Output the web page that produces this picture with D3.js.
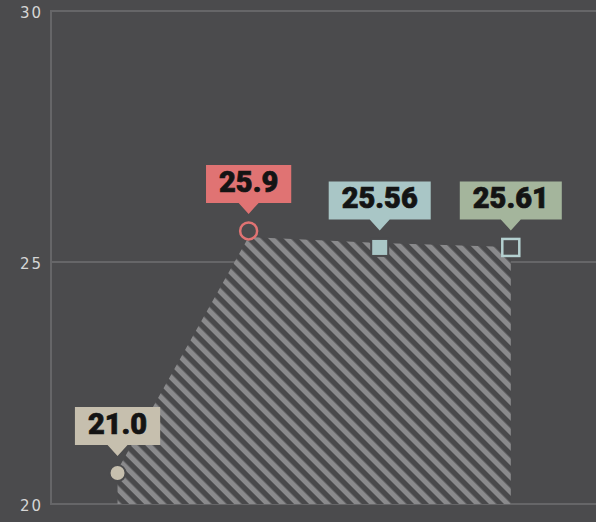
<!DOCTYPE html>
<html>
<head>
<meta charset="utf-8">
<script src="https://cdn.jsdelivr.net/npm/d3@7"></script>
<style>
  html, body { margin: 0; padding: 0; background: #4b4b4d; }
  svg { display: block; }
</style>
</head>
<body>
<div id="chart"></div>
<script>
// values
var pointIndex = [0, 1, 2, 3];
var areaValues = [20.7, 25.5, 25.38, 25.3];
var markerValues = [20.64, 25.62, 25.29, 25.29];
var labelTexts = ['21.0', '25.9', '25.56', '25.61'];
var yTicks = [20, 25, 30];

// marker look per point
var markerStyle = [
	{ shape: 'circle', fill: '#c6bfae', stroke: '#4b4b4d', box: '#c6bfae' },
	{ shape: 'circle', fill: 'none', stroke: '#e07373', box: '#e07373' },
	{ shape: 'square', fill: '#a9c6c6', stroke: '#4b4b4d', box: '#a9c6c6' },
	{ shape: 'square', fill: 'none', stroke: '#b4d0d0', box: '#a4b59c' }
];

var width = 596, height = 522;
var margin = { left: 52 };

var svg = d3.select('#chart').append('svg')
	.attr('width', width)
	.attr('height', height);

// x: index scale, chart is cut off on the right
var x = d3.scaleLinear()
	.domain([-0.5, 3.65])
	.range([margin.left, width]);

// the two halves of the axis are not quite the same height in the picture
var y = d3.scaleLinear()
	.domain([20, 25, 30])
	.range([504, 262, 11]);

// hatch pattern for the area
var defs = svg.append('defs');
var pat = defs.append('pattern')
	.attr('id', 'hatch')
	.attr('patternUnits', 'userSpaceOnUse')
	.attr('width', 10.6)
	.attr('height', 10.6)
	.attr('patternTransform', 'rotate(-45)');
pat.append('rect').attr('width', 10.6).attr('height', 10.6).attr('fill', '#49494b');
pat.append('rect').attr('width', 5.2).attr('height', 10.6).attr('fill', '#8a8a8c');

// gridlines
svg.append('g')
	.selectAll('line')
	.data(yTicks)
	.enter().append('line')
	.attr('x1', margin.left - 1)
	.attr('x2', width)
	.attr('y1', function (d) { return y(d); })
	.attr('y2', function (d) { return y(d); })
	.attr('stroke', '#666668')
	.attr('stroke-width', 2);

// left axis line
svg.append('line')
	.attr('x1', margin.left - 1).attr('x2', margin.left - 1)
	.attr('y1', y(30) - 1).attr('y2', y(20) + 1)
	.attr('stroke', '#666668')
	.attr('stroke-width', 2);

// tick labels
svg.append('g')
	.selectAll('text')
	.data(yTicks)
	.enter().append('text')
	.attr('x', 43)
	.attr('y', function (d) { return y(d) + 2; })
	.attr('dy', '0.35em')
	.attr('text-anchor', 'end')
	.attr('fill', '#d6d6d6')
	.style('font-family', 'DejaVu Sans, sans-serif')
	.style('font-size', '15px')
	.style('letter-spacing', '2px')
	.text(function (d) { return d; });

var data = pointIndex.map(function (d, i) {
	return {
		i: d,
		area: areaValues[i],
		value: markerValues[i],
		label: labelTexts[i],
		style: markerStyle[i]
	};
});

// hatched area
var area = d3.area()
	.x(function (d) { return x(d.i); })
	.y0(y(20))
	.y1(function (d) { return y(d.area); });

svg.append('path')
	.attr('d', area(data))
	.attr('fill', 'url(#hatch)');

// markers
var marks = svg.append('g');
data.forEach(function (d) {
	var cx = x(d.i), cy = y(d.value);
	var open = d.style.fill === 'none';
	if (d.style.shape === 'circle') {
		marks.append('circle')
			.attr('cx', cx).attr('cy', cy)
			.attr('r', open ? 8.5 : 8)
			.attr('fill', open ? '#4b4b4d' : d.style.fill)
			.attr('stroke', d.style.stroke)
			.attr('stroke-width', open ? 2.5 : 2);
	} else {
		var s = 17;
		marks.append('rect')
			.attr('x', cx - s / 2).attr('y', cy - s / 2)
			.attr('width', s).attr('height', s)
			.attr('fill', open ? '#4b4b4d' : d.style.fill)
			.attr('stroke', d.style.stroke)
			.attr('stroke-width', open ? 2.5 : 2);
	}
});

// callout labels sit just above their marker
var boxH = 38, tipH = 11, tipW = 10, padX = 13, gap = 17;
data.forEach(function (d) {
	var tx = x(d.i), ty = y(d.value) - gap;
	var g = svg.append('g');
	var bg = g.append('path');
	var t = g.append('text')
		.attr('x', tx)
		.attr('y', ty - tipH - 11)
		.attr('text-anchor', 'middle')
		.attr('fill', '#141414')
		.attr('stroke', '#141414')
		.attr('stroke-width', 0.7)
		.style('font-family', 'Roboto, sans-serif')
		.style('font-weight', 900)
		.style('font-size', '29px')
		.text(d.label);
	var w = t.node().getComputedTextLength() + padX * 2;
	var bottom = ty - tipH, top = bottom - boxH;
	bg.attr('d', 'M' + (tx - w / 2) + ',' + top +
			'H' + (tx + w / 2) + 'V' + bottom +
			'H' + (tx + tipW) + 'L' + tx + ',' + ty +
			'L' + (tx - tipW) + ',' + bottom +
			'H' + (tx - w / 2) + 'Z')
		.attr('fill', d.style.box);
});
</script>
</body>
</html>
